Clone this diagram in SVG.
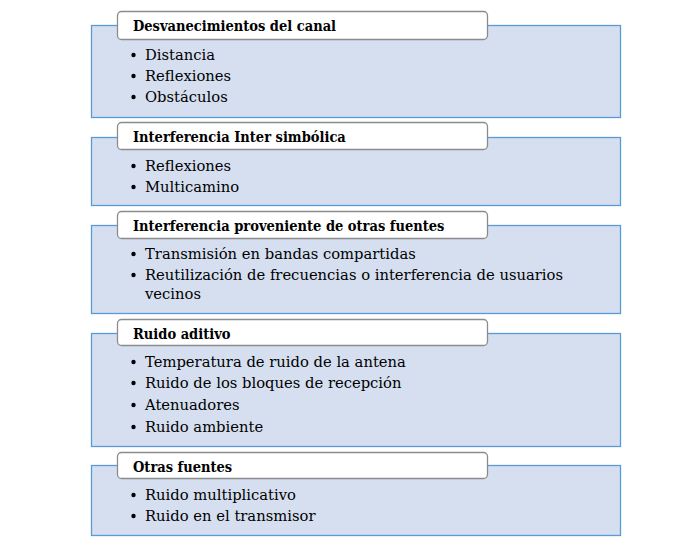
<svg xmlns="http://www.w3.org/2000/svg" width="678" height="556" viewBox="0 0 678 556">
<style>
.box{fill:#d5dff0;stroke:#5b9bd5;stroke-width:1.3}
.hdr{fill:#ffffff;stroke:#8c8c8c;stroke-width:1.3}
.ht{font-family:"DejaVu Serif Condensed","DejaVu Serif",serif;font-weight:bold;font-size:14.5px;fill:#000}
.it{font-family:"DejaVu Serif","Liberation Serif",serif;font-size:14.75px;fill:#000}
.bl{fill:#000}
</style>
<rect width="678" height="556" fill="#ffffff"/>
<g id="n1">
<rect class="box" x="91.5" y="25.5" width="529" height="92"/>
<rect class="hdr" x="117.5" y="11.5" width="370" height="28" rx="4"/>
<text class="ht" x="133" y="31">Desvanecimientos del canal</text>
<circle class="bl" cx="133.5" cy="55" r="2.2"/><text class="it" x="145" y="60">Distancia</text>
<circle class="bl" cx="133.5" cy="76" r="2.2"/><text class="it" x="145" y="81">Reflexiones</text>
<circle class="bl" cx="133.5" cy="97" r="2.2"/><text class="it" x="145" y="102">Obstáculos</text>
</g>
<g id="n2">
<rect class="box" x="91.5" y="137.5" width="529" height="68"/>
<rect class="hdr" x="117.5" y="122.5" width="370" height="27" rx="4"/>
<text class="ht" x="133" y="142">Interferencia Inter simbólica</text>
<circle class="bl" cx="133.5" cy="166" r="2.2"/><text class="it" x="145" y="171">Reflexiones</text>
<circle class="bl" cx="133.5" cy="187" r="2.2"/><text class="it" x="145" y="192">Multicamino</text>
</g>
<g id="n3">
<rect class="box" x="91.5" y="225.5" width="529" height="88"/>
<rect class="hdr" x="117.5" y="211.5" width="370" height="27" rx="4"/>
<text class="ht" x="133" y="231">Interferencia proveniente de otras fuentes</text>
<circle class="bl" cx="133.5" cy="254" r="2.2"/><text class="it" x="145" y="259">Transmisión en bandas compartidas</text>
<circle class="bl" cx="133.5" cy="275" r="2.2"/><text class="it" x="145" y="280">Reutilización de frecuencias o interferencia de usuarios</text>
<text class="it" x="145" y="299">vecinos</text>
</g>
<g id="n4">
<rect class="box" x="91.5" y="333.5" width="529" height="113"/>
<rect class="hdr" x="117.5" y="319.5" width="370" height="26" rx="4"/>
<text class="ht" x="133" y="339">Ruido aditivo</text>
<circle class="bl" cx="133.5" cy="362" r="2.2"/><text class="it" x="145" y="367">Temperatura de ruido de la antena</text>
<circle class="bl" cx="133.5" cy="383" r="2.2"/><text class="it" x="145" y="388">Ruido de los bloques de recepción</text>
<circle class="bl" cx="133.5" cy="405" r="2.2"/><text class="it" x="145" y="410">Atenuadores</text>
<circle class="bl" cx="133.5" cy="427" r="2.2"/><text class="it" x="145" y="432">Ruido ambiente</text>
</g>
<g id="n5">
<rect class="box" x="91.5" y="465.5" width="529" height="70"/>
<rect class="hdr" x="117.5" y="452.5" width="370" height="26" rx="4"/>
<text class="ht" x="133" y="472">Otras fuentes</text>
<circle class="bl" cx="133.5" cy="495" r="2.2"/><text class="it" x="145" y="500">Ruido multiplicativo</text>
<circle class="bl" cx="133.5" cy="516" r="2.2"/><text class="it" x="145" y="521">Ruido en el transmisor</text>
</g>
<g id="connectors"></g>
</svg>
